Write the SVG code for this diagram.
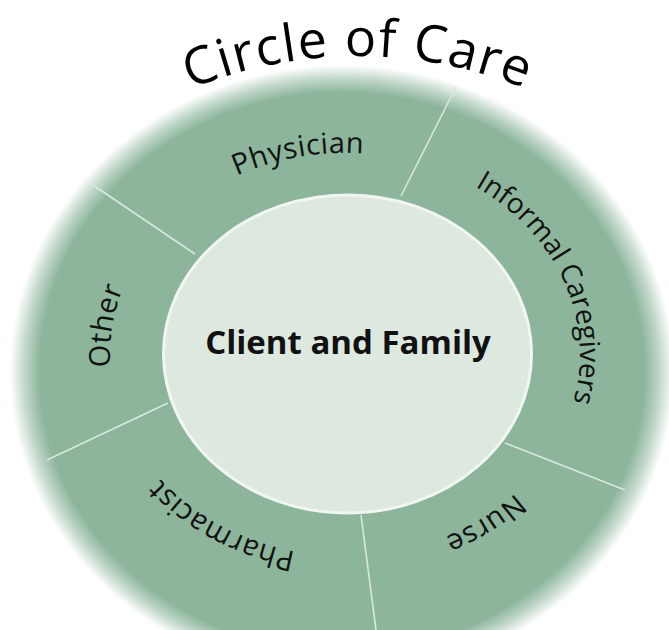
<svg xmlns="http://www.w3.org/2000/svg" xmlns:xlink="http://www.w3.org/1999/xlink" width="669" height="630" viewBox="0 0 669 630">
  <style>
    .lbl { font-family: "Open Sans", "Noto Sans", "DejaVu Sans", sans-serif; font-size: 29px; fill: #111; letter-spacing: 0.5px; }
    .lbl-sm { font-size: 28px; letter-spacing: 0px; }
    .title { font-family: "Open Sans", "Noto Sans", "DejaVu Sans", sans-serif; font-size: 52px; fill: #000; letter-spacing: 1.5px; }
    .center { font-family: "Open Sans", "Noto Sans", "DejaVu Sans", sans-serif; font-size: 33px; font-weight: bold; fill: #111; }
    .div { stroke: #d9e8dc; stroke-width: 1.6; fill: none; }
  </style>
  <defs>
    <radialGradient id="ringFill" cx="0.5" cy="0.5" r="0.5">
      <stop offset="0" stop-color="#8cb59b"/>
      <stop offset="0.91" stop-color="#8cb59b"/>
      <stop offset="0.955" stop-color="#8cb59b" stop-opacity="0.55"/>
      <stop offset="1" stop-color="#8cb59b" stop-opacity="0"/>
    </radialGradient>
    <path id="labelPath" d="M 345 556 A 235 201.5 0 0 1 110 354.5 A 235 201.5 0 0 1 345 153 A 235 201.5 0 0 1 580 354.5 A 235 201.5 0 0 1 345 556"/>
    <path id="titlePath" d="M 72.6 160 A 444 444 0 0 1 643.4 160"/>
  </defs>
  <rect width="669" height="630" fill="#ffffff"/>

  <g id="ring">
    <ellipse cx="342" cy="372" rx="332" ry="307" fill="url(#ringFill)"/>
  </g>

  <g id="connectors">
    <line class="div" x1="195" y1="254" x2="90" y2="183"/>
    <line class="div" x1="401" y1="196" x2="456" y2="87"/>
    <line class="div" x1="505" y1="443" x2="625" y2="490"/>
    <line class="div" x1="361" y1="515" x2="376" y2="630"/>
    <line class="div" x1="168" y1="403" x2="47" y2="460"/>
  </g>

  <g id="center-node">
    <ellipse cx="347.5" cy="354" rx="184" ry="159" fill="#dde8df" stroke="#f1f6f2" stroke-width="3"/>
    <text class="center" x="348" y="354" text-anchor="middle">Client and Family</text>
  </g>

  <g id="title">
    <text class="title"><textPath xlink:href="#titlePath" href="#titlePath" startOffset="50%" text-anchor="middle">Circle of Care</textPath></text>
  </g>

  <g id="physician">
    <text class="lbl"><textPath xlink:href="#labelPath" href="#labelPath" startOffset="640" text-anchor="middle">Physician</textPath></text>
  </g>
  <g id="informal-caregivers">
    <text class="lbl lbl-sm"><textPath xlink:href="#labelPath" href="#labelPath" startOffset="950" text-anchor="middle">Informal Caregivers</textPath></text>
  </g>
  <g id="nurse">
    <text class="lbl"><textPath xlink:href="#labelPath" href="#labelPath" startOffset="1229" text-anchor="middle">Nurse</textPath></text>
  </g>
  <g id="pharmacist">
    <text class="lbl"><textPath xlink:href="#labelPath" href="#labelPath" startOffset="128" text-anchor="middle">Pharmacist</textPath></text>
  </g>
  <g id="other">
    <text class="lbl"><textPath xlink:href="#labelPath" href="#labelPath" startOffset="371" text-anchor="middle">Other</textPath></text>
  </g>
</svg>
